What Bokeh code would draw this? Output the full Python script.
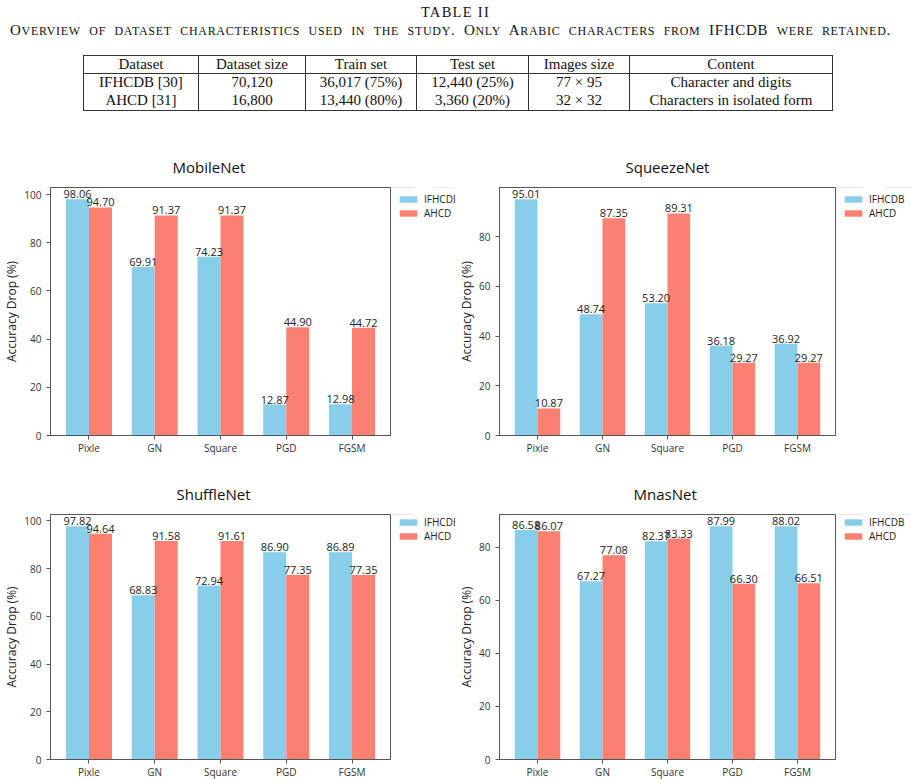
import re
import numpy as np
from bokeh.plotting import figure
from bokeh.layouts import column, row
from bokeh.models import Div, Range1d, FixedTicker, Legend, LegendItem, ColumnDataSource
from bokeh.core.properties import value
from bokeh.embed import file_html
from bokeh.resources import INLINE

# ---- table data ----
table_title = "TABLE II"
table_caption = ("Overview of dataset characteristics used in the study. "
                 "Only Arabic characters from IFHCDB were retained.")
table_header = ["Dataset", "Dataset size", "Train set", "Test set", "Images size", "Content"]
table_row_ifhcdb = ["IFHCDB [30]", "70,120", "36,017 (75%)", "12,440 (25%)", "77 \u00d7 95",
                    "Character and digits"]
table_row_ahcd = ["AHCD [31]", "16,800", "13,440 (80%)", "3,360 (20%)", "32 \u00d7 32",
                  "Characters in isolated form"]

# ---- chart data ----
attacks = ["Pixle", "GN", "Square", "PGD", "FGSM"]
series_names = ["IFHCDB", "AHCD"]

mobilenet_ifhcdb = [98.06, 69.91, 74.23, 12.87, 12.98]
mobilenet_ahcd = [94.70, 91.37, 91.37, 44.90, 44.72]
squeezenet_ifhcdb = [95.01, 48.74, 53.20, 36.18, 36.92]
squeezenet_ahcd = [10.87, 87.35, 89.31, 29.27, 29.27]
shufflenet_ifhcdb = [97.82, 68.83, 72.94, 86.90, 86.89]
shufflenet_ahcd = [94.64, 91.58, 91.61, 77.35, 77.35]
mnasnet_ifhcdb = [86.58, 67.27, 82.37, 87.99, 88.02]
mnasnet_ahcd = [86.07, 77.08, 83.33, 66.30, 66.51]

COL_IFHCDB = "#87CEEB"
COL_AHCD = "#FA8072"
FONT = "Open Sans"
SERIF = "Liberation Serif"
BAR_W = 0.35


# ---- table block (HTML) ----
def small_caps(text):
    """Render lowercase runs as reduced-size capitals."""
    out = []
    for s in re.split(r"([a-z]+)", text):
        if s and s.islower():
            out.append(f'<span style="font-size:80%;text-transform:uppercase">{s}</span>')
        else:
            out.append(s)
    return "".join(out)


col_widths = [115, 107, 111, 112, 101, 203]
cell_style = "border:1px solid #333;padding:0;text-align:center;white-space:nowrap;"


def html_row(cells, h):
    tds = "".join(f'<td style="{cell_style}border-top:none;border-bottom:none;height:{h}px">{c}</td>'
                  for c in cells)
    return f"<tr>{tds}</tr>"


header_tds = "".join(f'<td style="{cell_style}height:16px">{c}</td>' for c in table_header)
colgroup = "".join(f'<col style="width:{w}px">' for w in col_widths)
table_html = f"""
<div style="position:relative;width:911px;height:140px;font-family:'{SERIF}';color:#111;">
  <div style="position:absolute;top:2px;left:0;width:911px;text-align:center;font-size:14.5px;
              letter-spacing:1.3px;">{table_title}</div>
  <div style="position:absolute;top:20px;left:-5px;width:911px;text-align:center;font-size:15px;
              letter-spacing:0.7px;word-spacing:4px;white-space:nowrap;">{small_caps(table_caption)}</div>
  <table style="position:absolute;top:55px;left:83px;border-collapse:collapse;table-layout:fixed;
                font-size:15px;line-height:17px;border:1px solid #333;">
    <colgroup>{colgroup}</colgroup>
    <tr>{header_tds}</tr>
    {html_row(table_row_ifhcdb, 18)}
    {html_row(table_row_ahcd, 19)}
  </table>
</div>
"""
table_div = Div(text=table_html, width=911, height=140, margin=0)


def sources(ifh, ahcd):
    idx = np.arange(len(attacks), dtype=float)
    src_a = ColumnDataSource(dict(x=idx - BAR_W / 2, v=ifh, lab=[f"{v:.2f}" for v in ifh]))
    src_b = ColumnDataSource(dict(x=idx + BAR_W / 2, v=ahcd, lab=[f"{v:.2f}" for v in ahcd]))
    return src_a, src_b


def bar_panel(title, title_offset, src_a, src_b, width, height, left, top, bottom):
    n = len(attacks)
    idx = np.arange(n, dtype=float)
    span = (n - 1) + 2 * BAR_W
    ymax = max(max(src_a.data["v"]), max(src_b.data["v"])) * 1.05
    p = figure(width=width, height=height, output_backend="svg", toolbar_location=None,
               x_range=Range1d(-BAR_W - 0.05 * span, (n - 1) + BAR_W + 0.05 * span),
               y_range=Range1d(0, ymax),
               min_border_left=left, min_border_right=1,
               min_border_top=top, min_border_bottom=bottom,
               title=title)
    p.title.align = "left"
    p.title.offset = title_offset
    p.title.text_font = FONT
    p.title.text_font_size = "15px"
    p.title.text_font_style = "normal"
    p.title.text_color = "#111"
    p.title.standoff = 22

    p.vbar(x="x", top="v", width=BAR_W, source=src_a, fill_color=COL_IFHCDB, line_color=None)
    p.vbar(x="x", top="v", width=BAR_W, source=src_b, fill_color=COL_AHCD, line_color=None)
    for src in (src_a, src_b):
        p.text(x="x", y="v", text="lab", source=src, text_align="center", text_baseline="bottom",
               y_offset=-1, text_font_size="11px", text_font=value(FONT), text_color="#222")

    p.xgrid.visible = False
    p.ygrid.visible = False
    p.outline_line_color = "#555"
    p.outline_line_width = 1

    p.xaxis.ticker = FixedTicker(ticks=list(idx))
    p.xaxis.major_label_overrides = {float(i): a for i, a in enumerate(attacks)}
    p.yaxis.ticker = FixedTicker(ticks=[0, 20, 40, 60, 80, 100])
    p.yaxis.axis_label = "Accuracy Drop (%)"
    for ax in (p.xaxis, p.yaxis):
        ax.axis_line_color = "#555"
        ax.major_tick_line_color = "#555"
        ax.major_tick_out = 4
        ax.major_tick_in = 0
        ax.minor_tick_line_color = None
        ax.major_label_text_font = FONT
        ax.major_label_text_font_size = "10px"
        ax.major_label_text_color = "#333"
    p.xaxis.major_label_standoff = 1
    p.yaxis.major_label_standoff = 5
    p.yaxis.axis_label_text_font = FONT
    p.yaxis.axis_label_text_font_size = "12px"
    p.yaxis.axis_label_text_font_style = "normal"
    p.yaxis.axis_label_text_color = "#222"
    p.yaxis.axis_label_standoff = 1
    return p


def legend_panel(src_a, src_b, width, height, frame_h):
    """A frameless strip holding the series key beside a chart (its frame lines up with the chart's)."""
    lp = figure(width=width, height=height, output_backend="svg", toolbar_location=None,
                x_range=Range1d(0, 1), y_range=Range1d(0, 1),
                x_axis_location=None, y_axis_location=None,
                min_border=0, outline_line_color=None)
    lp.grid.visible = False
    # zero-height copies of the series: they only feed the key's swatches
    ra = lp.vbar(x="x", top="v", bottom="v", width=BAR_W, source=src_a,
                 fill_color=COL_IFHCDB, line_color=None)
    rb = lp.vbar(x="x", top="v", bottom="v", width=BAR_W, source=src_b,
                 fill_color=COL_AHCD, line_color=None)
    item_h = 14
    legend = Legend(items=[LegendItem(label=series_names[0], renderers=[ra]),
                           LegendItem(label=series_names[1], renderers=[rb])],
                    location=(6, frame_h - 5 - 2 * item_h),
                    border_line_color=None, background_fill_alpha=0,
                    glyph_width=22, glyph_height=8, label_height=item_h, spacing=0,
                    padding=0, margin=0, label_standoff=5,
                    label_text_font=FONT, label_text_font_size="10px", label_text_color="#222")
    lp.add_layout(legend)
    return lp


s1 = sources(mobilenet_ifhcdb, mobilenet_ahcd)
s2 = sources(squeezenet_ifhcdb, squeezenet_ahcd)
s3 = sources(shufflenet_ifhcdb, shufflenet_ahcd)
s4 = sources(mnasnet_ifhcdb, mnasnet_ahcd)

f1 = bar_panel("MobileNet", 122, *s1, 391, 330, 48, 47, 35)
l1 = legend_panel(*s1, 64, 330, 330 - 47 - 35)
f2 = bar_panel("SqueezeNet", 126, *s2, 381, 330, 37, 47, 35)
l2 = legend_panel(*s2, 75, 330, 330 - 47 - 35)
f3 = bar_panel("ShuffleNet", 126, *s3, 391, 311, 48, 40, 22)
l3 = legend_panel(*s3, 64, 311, 311 - 40 - 22)
f4 = bar_panel("MnasNet", 134, *s4, 381, 311, 37, 40, 22)
l4 = legend_panel(*s4, 75, 311, 311 - 40 - 22)

page = column(table_div, row(f1, l1, f2, l2), row(f3, l3, f4, l4))
open("out.html", "w").write(file_html(page, INLINE))
